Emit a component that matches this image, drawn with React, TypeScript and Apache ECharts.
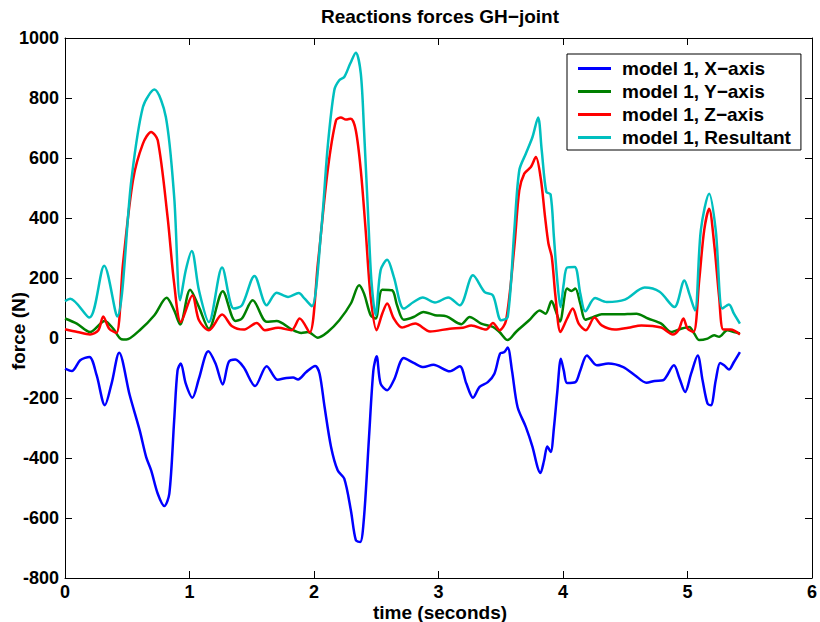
import React, { useEffect, useRef } from "react";
import * as echarts from "echarts";

const FONT = '"Liberation Sans", Arial, Helvetica, sans-serif';

const seriesNames = ["model 1, X\u2212axis", "model 1, Y\u2212axis", "model 1, Z\u2212axis", "model 1, Resultant"];
const seriesColors = ["#0000ff", "#008000", "#ff0000", "#00bfbf"];

const timeX = [0, 0.055, 0.122, 0.196, 0.254, 0.32, 0.374, 0.435, 0.52, 0.6, 0.652, 0.692, 0.745, 0.798, 0.838, 0.877, 0.904, 0.93, 0.97, 1.023, 1.076, 1.151, 1.209, 1.267, 1.315, 1.368, 1.434, 1.527, 1.62, 1.707, 1.779, 1.832, 1.872, 1.938, 2.01, 2.045, 2.085, 2.137, 2.19, 2.243, 2.296, 2.336, 2.371, 2.402, 2.442, 2.477, 2.503, 2.535, 2.588, 2.641, 2.721, 2.8, 2.879, 2.959, 3.091, 3.171, 3.224, 3.277, 3.33, 3.396, 3.449, 3.495, 3.529, 3.556, 3.59, 3.635, 3.702, 3.755, 3.795, 3.818, 3.847, 3.874, 3.901, 3.927, 3.954, 3.983, 4.006, 4.033, 4.1, 4.139, 4.192, 4.272, 4.364, 4.484, 4.577, 4.67, 4.736, 4.803, 4.891, 4.936, 4.981, 5.029, 5.082, 5.121, 5.161, 5.188, 5.227, 5.262, 5.294, 5.333, 5.373, 5.421];
const forceX = [-102, -110, -74, -63, -124, -224, -152, -49, -191, -308, -397, -441, -519, -560, -519, -274, -108, -85, -152, -199, -135, -44, -85, -155, -80, -72, -97, -160, -94, -139, -133, -132, -138, -113, -93, -119, -230, -363, -441, -469, -574, -674, -680, -596, -330, -108, -61, -152, -174, -141, -67, -83, -97, -89, -111, -94, -152, -199, -163, -147, -119, -52, -47, -32, -108, -230, -297, -363, -430, -450, -410, -362, -380, -300, -180, -69, -108, -150, -147, -108, -58, -91, -85, -97, -124, -149, -143, -141, -91, -135, -180, -119, -58, -141, -219, -224, -141, -83, -91, -105, -80, -47];

const timeY = [0, 0.095, 0.201, 0.32, 0.387, 0.453, 0.493, 0.6, 0.718, 0.816, 0.877, 0.925, 1.005, 1.076, 1.156, 1.267, 1.368, 1.421, 1.508, 1.62, 1.7, 1.819, 1.898, 1.952, 2.031, 2.11, 2.203, 2.296, 2.362, 2.402, 2.455, 2.495, 2.548, 2.627, 2.667, 2.721, 2.8, 2.879, 2.972, 3.065, 3.184, 3.25, 3.343, 3.437, 3.49, 3.556, 3.622, 3.728, 3.813, 3.86, 3.908, 3.94, 3.975, 4.033, 4.067, 4.099, 4.139, 4.179, 4.245, 4.311, 4.444, 4.59, 4.683, 4.789, 4.869, 4.949, 5.014, 5.054, 5.094, 5.161, 5.214, 5.254, 5.32, 5.373, 5.421];
const forceY = [65, 48, 20, 57, 31, -4, -5, 26, 76, 134, 92, 45, 161, 103, 31, 156, 57, 65, 126, 54, 57, 29, 17, 20, 1, 20, 59, 115, 176, 148, 76, 65, 161, 159, 109, 61, 70, 87, 76, 72, 46, 70, 48, 37, 20, -7, 20, 59, 92, 81, 123, 92, 55, 165, 157, 165, 115, 61, 70, 79, 79, 81, 65, 48, 20, 31, 37, 15, -7, -2, 9, 4, 26, 20, 15];

const timeZ = [0, 0.1, 0.201, 0.268, 0.307, 0.355, 0.413, 0.466, 0.546, 0.626, 0.692, 0.745, 0.824, 0.877, 0.93, 1.023, 1.076, 1.156, 1.262, 1.342, 1.434, 1.54, 1.606, 1.712, 1.819, 1.885, 1.965, 2.031, 2.11, 2.177, 2.216, 2.256, 2.296, 2.336, 2.376, 2.415, 2.455, 2.503, 2.548, 2.588, 2.641, 2.707, 2.813, 2.932, 3.091, 3.197, 3.263, 3.383, 3.437, 3.49, 3.543, 3.609, 3.649, 3.689, 3.742, 3.782, 3.822, 3.856, 3.883, 3.91, 3.94, 3.98, 4.033, 4.078, 4.126, 4.184, 4.253, 4.311, 4.417, 4.524, 4.63, 4.789, 4.882, 4.927, 4.967, 5.001, 5.049, 5.094, 5.134, 5.174, 5.214, 5.254, 5.288, 5.346, 5.421];
const forceZ = [29, 20, 12, 26, 72, 31, 17, 248, 526, 648, 687, 659, 403, 181, 53, 142, 59, 26, 78, 39, 28, 50, 26, 34, 26, 65, 18, 248, 559, 726, 735, 728, 731, 692, 559, 359, 137, 26, 81, 115, 65, 35, 48, 22, 31, 34, 42, 28, 50, 26, 59, 303, 492, 548, 570, 603, 530, 403, 315, 270, 137, 20, 65, 98, 48, 26, 68, 42, 28, 34, 42, 35, 12, 26, 65, 31, 20, 192, 359, 431, 315, 137, 28, 28, 12];

const timeR = [0, 0.042, 0.196, 0.315, 0.419, 0.533, 0.626, 0.718, 0.81, 0.877, 0.925, 0.97, 1.018, 1.076, 1.156, 1.262, 1.355, 1.421, 1.522, 1.62, 1.7, 1.792, 1.877, 1.925, 1.983, 2.058, 2.11, 2.163, 2.203, 2.243, 2.291, 2.336, 2.376, 2.402, 2.434, 2.461, 2.495, 2.535, 2.588, 2.641, 2.721, 2.8, 2.874, 2.972, 3.078, 3.171, 3.277, 3.371, 3.437, 3.503, 3.556, 3.609, 3.649, 3.702, 3.755, 3.8, 3.829, 3.866, 3.9, 3.927, 3.954, 3.98, 4.006, 4.033, 4.094, 4.139, 4.179, 4.258, 4.351, 4.497, 4.656, 4.776, 4.895, 4.975, 5.014, 5.06, 5.107, 5.174, 5.227, 5.28, 5.333, 5.373, 5.421];
const forceR = [123, 131, 68, 241, 72, 526, 770, 828, 737, 470, 126, 226, 290, 159, 53, 235, 98, 109, 207, 109, 151, 137, 150, 131, 106, 359, 637, 826, 859, 870, 915, 951, 881, 692, 415, 192, 76, 226, 261, 204, 98, 120, 135, 118, 135, 109, 209, 153, 142, 59, 70, 359, 559, 615, 670, 735, 626, 487, 479, 337, 192, 103, 181, 235, 237, 148, 89, 133, 120, 128, 168, 154, 103, 192, 148, 92, 359, 481, 359, 98, 112, 81, 48];

const xTicks = { min: 0, max: 6, interval: 1 };
const yTicks = { min: -800, max: 1000, interval: 200 };

const zip = (t: number[], v: number[]) => t.map((x, i) => [x, v[i]]);

export default function App() {
  const ref = useRef<HTMLDivElement>(null);
  useEffect(() => {
    if (!ref.current) return;
    const chart = echarts.init(ref.current, undefined, { renderer: "svg" });
    const labelStyle = { fontSize: 18, fontWeight: "bold" as const, fontFamily: FONT, color: "#000", lineHeight: 18 };
    const axisLine = { show: true, onZero: false, lineStyle: { color: "#000", width: 1 } };
    const tick = { show: true, inside: true, length: 7, lineStyle: { color: "#000", width: 1 } };
    const datasets = [zip(timeX, forceX), zip(timeY, forceY), zip(timeZ, forceZ), zip(timeR, forceR)];
    chart.setOption({
      animation: false,
      backgroundColor: "#fff",
      grid: { left: 65, top: 38, width: 754, height: 540 },
      xAxis: [
        {
          type: "value", ...xTicks, position: "bottom",
          axisLine, axisTick: tick, splitLine: { show: false },
          axisLabel: { ...labelStyle, margin: 5, alignMaxLabel: "center", alignMinLabel: "center", formatter: (v: number) => String(v) },
        },
        {
          type: "value", ...xTicks, position: "top",
          axisLine, axisTick: tick, splitLine: { show: false },
          axisLabel: { show: false },
        },
      ],
      yAxis: [
        {
          type: "value", ...yTicks, position: "left",
          axisLine, axisTick: tick, splitLine: { show: false },
          axisLabel: { ...labelStyle, margin: 6, formatter: (v: number) => String(v) },
        },
        {
          type: "value", ...yTicks, position: "right",
          axisLine, axisTick: tick, splitLine: { show: false },
          axisLabel: { show: false },
        },
      ],
      legend: {
        orient: "vertical",
        left: 567,
        top: 54,
        padding: [5, 10, 3, 11],
        itemGap: 4,
        itemWidth: 33,
        itemHeight: 3,
        icon: "rect",
        borderColor: "#000",
        borderWidth: 1,
        backgroundColor: "#fff",
        textStyle: { fontSize: 19, fontWeight: "bold", fontFamily: FONT, color: "#000", lineHeight: 18, padding: [0, 0, 0, 6] },
        data: seriesNames,
      },
      graphic: [
        {
          type: "text", x: 440, y: 16,
          style: { text: "Reactions forces GH\u2212joint", align: "center", verticalAlign: "middle", font: `bold 19px ${FONT}`, fill: "#000" },
        },
        {
          type: "text", x: 440, y: 612.5,
          style: { text: "time (seconds)", align: "center", verticalAlign: "middle", font: `bold 19px ${FONT}`, fill: "#000" },
        },
        {
          type: "text", x: 18, y: 331, rotation: Math.PI / 2,
          style: { text: "force (N)", align: "center", verticalAlign: "middle", font: `bold 19px ${FONT}`, fill: "#000" },
        },
      ],
      series: seriesNames.map((name, i) => ({
        name,
        type: "line",
        data: datasets[i],
        smooth: 0.3,
        symbol: "none",
        color: seriesColors[i],
        lineStyle: { color: seriesColors[i], width: 2.5 },
        z: 2 + i,
      })),
    });
    return () => chart.dispose();
  }, []);
  return <div ref={ref} style={{ position: "fixed", left: 0, top: 0, width: 820, height: 622 }} />;
}
